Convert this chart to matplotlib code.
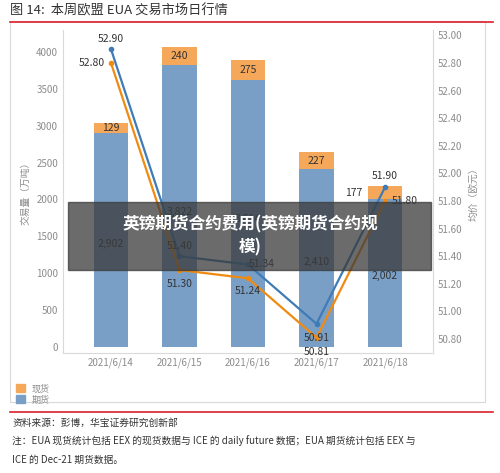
import matplotlib
matplotlib.use("Agg")
import matplotlib.pyplot as plt
from matplotlib.patches import Rectangle, Patch
from matplotlib.lines import Line2D

plt.rcParams['font.family'] = ['Noto Sans CJK SC', 'DejaVu Sans']

dates = ["2021/6/14", "2021/6/15", "2021/6/16", "2021/6/17", "2021/6/18"]
futures_vol = [2902, 3822, 3614, 2410, 2002]
spot_vol = [129, 240, 275, 227, 177]
futures_price = [52.90, 51.40, 51.34, 50.91, 51.90]
spot_price = [52.80, 51.30, 51.24, 50.81, 51.80]

BLUE_BAR = "#7a9fc6"
ORANGE_BAR = "#f6a85a"
BLUE_LINE = "#3f7bb5"
ORANGE_LINE = "#f08a10"
GRAY = "#8c8c8c"

fig = plt.figure(figsize=(5.0, 4.73), dpi=100)
ax = fig.add_axes([0.126, 0.254, 0.74, 0.683])
x = list(range(len(dates)))
ax.bar(x, futures_vol, width=0.5, color=BLUE_BAR, zorder=2)
ax.bar(x, spot_vol, width=0.5, bottom=futures_vol, color=ORANGE_BAR, zorder=2)
ax.set_ylim(-80, 4300)
ax.set_xlim(-0.7, 4.7)
ax.set_yticks(range(0, 4001, 500))
ax.set_xticks(x)
ax.set_xticklabels(dates)
ax.tick_params(colors=GRAY, labelsize=7, length=0)
for s in ["top", "right"]:
    ax.spines[s].set_visible(False)
ax.spines["left"].set_color("#d9d9d9")
ax.spines["bottom"].set_color("#d9d9d9")
ax.set_ylabel("交易量（万吨）", color=GRAY, fontsize=7)
for i in x:
    ax.text(i, futures_vol[i] * 0.48, f"{futures_vol[i]:,}", ha="center", va="center", fontsize=7.5, color="#333333", zorder=3)
    if i == 4:
        ax.annotate(f"{spot_vol[i]}", (i - 0.25, futures_vol[i] + spot_vol[i] / 2), textcoords="offset points",
                    xytext=(-10, 0), ha="center", va="center", fontsize=7.5, color="#333333")
    else:
        ax.text(i, futures_vol[i] + spot_vol[i] / 2, f"{spot_vol[i]}", ha="center", va="center", fontsize=7.5, color="#333333", zorder=3)

ax2 = ax.twinx()
ax2.plot(x, futures_price, color=BLUE_LINE, lw=1.6, marker="o", ms=3)
ax2.plot(x, spot_price, color=ORANGE_LINE, lw=1.6, marker="o", ms=3)
ax2.set_ylim(50.70, 53.04)
ax2.set_yticks([50.8 + 0.2 * k for k in range(12)])
ax2.set_yticklabels([f"{50.8 + 0.2 * k:.2f}" for k in range(12)])
ax2.tick_params(colors=GRAY, labelsize=7, length=0)
for s in ["top", "left", "bottom"]:
    ax2.spines[s].set_visible(False)
ax2.spines["right"].set_color("#d9d9d9")
ax2.set_ylabel("均价（欧元）", color=GRAY, fontsize=7)
fp_off = [(0, 7), (0, 7), (10, 0), (0, -10), (0, 8)]
sp_off = [(-14, 0), (0, -10), (0, -9), (0, -10), (14, 0)]
for i in x:
    ax2.annotate(f"{futures_price[i]:.2f}", (i, futures_price[i]), textcoords="offset points",
                 xytext=fp_off[i], ha="center", va="center", fontsize=7.5, color="#333333")
    ax2.annotate(f"{spot_price[i]:.2f}", (i, spot_price[i]), textcoords="offset points",
                 xytext=sp_off[i], ha="center", va="center", fontsize=7.5, color="#333333")

fig.add_artist(Rectangle((0.02, 0.15), 0.95, 0.805, fill=False, ec="#d9d9d9", lw=0.8, transform=fig.transFigure))

fig.text(0.02, 0.977, "图 14:  本周欧盟 EUA 交易市场日行情", fontsize=9.5, color="#333333", va="center")
fig.add_artist(Line2D([0.02, 0.985], [0.953, 0.953], color="#d9202a", lw=1.2))
fig.add_artist(Line2D([0.02, 0.985], [0.129, 0.129], color="#d9202a", lw=1.2))

fig.legend(handles=[Patch(color=ORANGE_BAR, label="现货"), Patch(color=BLUE_BAR, label="期货")],
           loc="upper left", bbox_to_anchor=(0.015, 0.205), frameon=False, fontsize=6.5,
           handlelength=1.0, handleheight=1.0, labelspacing=0.2, labelcolor=GRAY)

fig.text(0.025, 0.107, "资料来源：彭博，华宝证券研究创新部", fontsize=7, color="#333333", va="center")
fig.text(0.025, 0.068, "注：EUA 现货统计包括 EEX 的现货数据与 ICE 的 daily future 数据；EUA 期货统计包括 EEX 与", fontsize=7, color="#333333", va="center")
fig.text(0.025, 0.027, "ICE 的 Dec-21 期货数据。", fontsize=7, color="#333333", va="center")

fig.add_artist(Rectangle((0.136, 0.43), 0.726, 0.142, color="#3a3a3a", alpha=0.75, transform=fig.transFigure, zorder=10))
fig.text(0.5, 0.501, "英镑期货合约费用(英镑期货合约规\n模)", fontsize=12, color="white", weight="bold",
         ha="center", va="center", zorder=11, linespacing=1.4)

fig.savefig("out.png", dpi=100)
